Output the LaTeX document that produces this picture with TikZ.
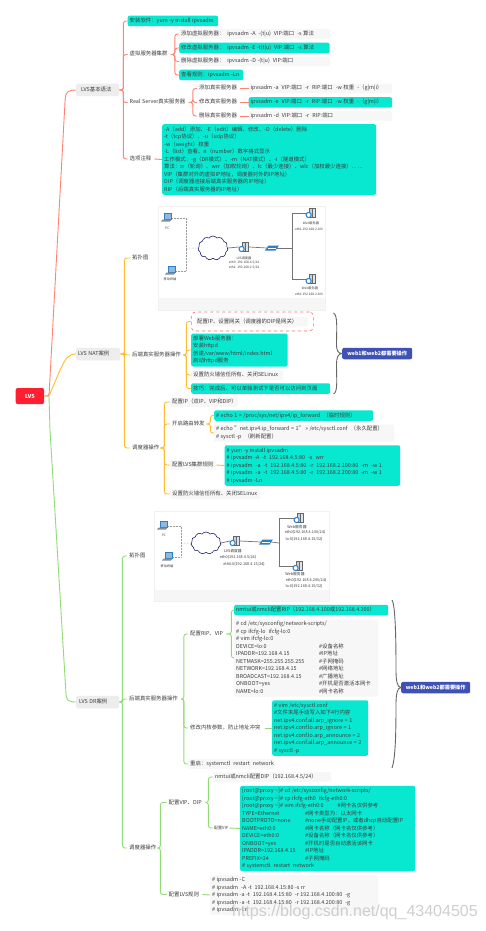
\documentclass[tikz,border=0pt]{standalone}
\usepackage{fontspec}
\setmainfont{Noto Sans CJK SC}
\newfontfamily\wmfont{Liberation Sans}
\usetikzlibrary{shapes.symbols,decorations.pathreplacing,calc}
\definecolor{tealbox}{HTML}{08E8D0}
\definecolor{graybox}{HTML}{F7F7F7}
\definecolor{ink}{HTML}{3C3C3C}
\definecolor{redline}{HTML}{FF8472}
\definecolor{orgline}{HTML}{FFBC33}
\definecolor{grnline}{HTML}{93DB76}
\definecolor{frameedge}{HTML}{F1F1F1}
\definecolor{stripfill}{HTML}{F6F6F6}
\definecolor{netblue}{HTML}{2E7FC4}
\definecolor{srvgray}{HTML}{C8D0DC}
\definecolor{rootred}{HTML}{FF1F30}
\definecolor{noteblue}{HTML}{3F51B5}
\tikzset{
  mmbase/.style={anchor=west,inner xsep=2pt,inner ysep=1pt,text=ink,
    font=\fontsize{5.4}{7.5}\selectfont},
  plainbox/.style={mmbase,fill=graybox,rounded corners=1pt},
  whitebox/.style={mmbase,fill=white,rounded corners=1pt},
  tealnode/.style={mmbase,fill=tealbox,inner ysep=1.5pt,rounded corners=2pt},
  topicbox/.style={mmbase,fill=black!7,inner ysep=2.5pt,rounded corners=1.5pt},
  rootbox/.style={anchor=west,fill=rootred,text=white,rounded corners=2pt,align=center,
    inner sep=0pt,font=\fontsize{5.4}{7}\selectfont\bfseries},
  notebox/.style={anchor=west,fill=noteblue,text=white,rounded corners=2pt,align=center,
    inner sep=0pt,font=\fontsize{5.2}{7}\selectfont\bfseries},
  redlink/.style={draw=redline,line width=0.9pt,rounded corners=2.5pt},
  orglink/.style={draw=orgline,line width=0.9pt,rounded corners=2.5pt},
  grnlink/.style={draw=grnline,line width=0.9pt,rounded corners=2.5pt},
  dashring/.style={anchor=west,draw=red!45!pink,dashed,line width=0.6pt,rounded corners=4pt,fill=white,inner sep=0pt},
  imgframe/.style={draw=frameedge,fill=white,line width=0.5pt,inner sep=0pt,anchor=north west},
  iconspot/.style={inner sep=0pt,minimum width=10pt,minimum height=10pt},
  netlabel/.style={inner sep=0pt,text=ink,font=\fontsize{3.2}{4}\selectfont},
  netlabelb/.style={inner sep=0pt,text=ink,font=\fontsize{3.8}{4.5}\selectfont},
  wireline/.style={draw=black!55,line width=0.7pt},
  dotline/.style={draw=black!40,densely dotted,line width=0.5pt},
  cloudnode/.style={cloud,cloud puffs=11,cloud puff arc=110,aspect=1.35,draw=black!65!blue,fill=white,
    line width=0.5pt,inner sep=0pt},
  bracket/.style={draw=black!60,line width=0.9pt},
}
% node between x1 and x2, centred on y; lines never rewrap
\newcommand\mmnode[6][plainbox]{%
  \pgfmathsetmacro\mmw{#4-#3-4}%
  \node[#1] (#2) at (#3,#5) {\hbox to \mmw pt{\vbox{\hsize=420pt \raggedright\parskip=0pt \spaceskip=1.5pt\relax \strut #6\strut}\hss}};}
\newcommand\mmlink[4]{\foreach \mmc in {#4}{\draw[#1] (#2.east) -- ++(#3,0) |- (\mmc.west);}}
\newcommand\tabc[2]{\makebox[83pt][l]{#1}#2}
\newcommand\tabd[2]{\makebox[63pt][l]{#1}#2}
\newcommand\serverpic[1]{%
  \fill[black!60] ($(#1)+(-2.5,-5.5)$) rectangle ($(#1)+(5,5)$);
  \fill[srvgray] ($(#1)+(-1.5,-4.5)$) rectangle ($(#1)+(1.2,4)$);
  \fill[srvgray!60] ($(#1)+(2.2,-4.5)$) rectangle ($(#1)+(4,4)$);
  \filldraw[draw=netblue,fill=white,line width=1pt] ($(#1)+(-2.4,2)$) circle (2.6pt);}
\newcommand\laptoppic[1]{%
  \fill[netblue] ($(#1)+(-3.5,-5)$) rectangle ($(#1)+(4.5,1.5)$);
  \fill[netblue!55] ($(#1)+(-2.5,-4)$) rectangle ($(#1)+(3.5,0.5)$);
  \fill[black!45] ($(#1)+(-4.5,1.5)$) -- ($(#1)+(4.5,1.5)$) -- ($(#1)+(3,3.5)$) -- ($(#1)+(-6,3.5)$) -- cycle;}
\newcommand\switchpic[1]{%
  \fill[netblue] ($(#1)+(-3.5,-2.5)$) -- ($(#1)+(7,-2.5)$) -- ($(#1)+(3.5,2.5)$) -- ($(#1)+(-7,2.5)$) -- cycle;
  \draw[white,line width=0.25pt] ($(#1)+(-4,0)$) -- ($(#1)+(4,0)$);}
\begin{document}
\begin{tikzpicture}[x=1pt,y=-1pt]
\useasboundingbox (0,0) rectangle (486,931);
\fill[white] (0,0) rectangle (486,931);

% ---------- root and first level
\node[rootbox,minimum width=28.5pt,minimum height=16pt] (root) at (15.5,396) {LVS};
\mmnode[topicbox]{basic}{76}{119}{90}{\hspace{3pt}LVS基本语法}
\mmnode[topicbox]{nat}{76}{120}{354}{LVS NAT案例}
\mmnode[topicbox]{dr}{76}{119}{702}{\hspace{1pt}LVS DR案例}

\draw[redlink] (root.east) -- (49,396) -- (65,102) .. controls (65.6,93) and (67,90) .. (basic.west);
\draw[orgline,line width=0.9pt] (root.east) -- (49,396) -- (60,370) .. controls (66,358) and (68,354) .. (nat.west);
\draw[grnline,line width=0.9pt] (root.east) -- (49,396) -- (50,430) -- (66,694) .. controls (66.5,700) and (68,702) .. (dr.west);

% ---------- LVS basic
\mmnode[tealnode]{inst}{127.5}{218}{21}{安装软件：yum -y install ipvsadm}
\mmnode[whitebox]{vs}{127.5}{170.5}{54.5}{虚拟服务器集群}
\mmnode[whitebox]{rs}{127.5}{188.5}{102.5}{Real Server真实服务器}
\mmnode[whitebox]{opt}{127.5}{154}{159}{选项注释}
\mmlink{redlink}{basic}{4}{inst,vs,rs,opt}

\mmnode[plainbox]{vsa}{179}{330}{34}{添加虚拟服务器：~~ipvsadm -A ~-(t|u) ~VIP:端口 ~-s 算法}
\mmnode[tealnode]{vse}{179}{329.5}{48}{修改虚拟服务器：~~ipvsadm -E -t(t|u) ~VIP:端口 ~-s 算法}
\mmnode[plainbox]{vsd}{179}{330}{61.5}{删除虚拟服务器：~~ipvsadm -D -(t|u) ~VIP:端口}
\mmnode[tealnode]{vsl}{179}{243}{75}{查看规则：ipvsadm -Ln}
\mmlink{redlink}{vs}{4}{vsa,vse,vsd,vsl}

\mmnode[whitebox]{rsa}{197}{240}{88.5}{添加真实服务器}
\mmnode[whitebox]{rse}{197}{240}{102.5}{修改真实服务器}
\mmnode[whitebox]{rsd}{197}{240}{116}{删除真实服务器}
\mmlink{redlink}{rs}{4}{rsa,rse,rsd}
\mmnode[plainbox]{rsac}{248.5}{392}{88.5}{ipvsadm -a ~VIP:端口 ~-r ~RIP:端口 ~-w 权重 ~-（g|m|i）}
\mmnode[tealnode]{rsec}{248.5}{392}{102.5}{ipvsadm -e ~VIP:端口 ~-r ~RIP:端口 ~-w 权重 ~-（g|m|i）}
\mmnode[plainbox]{rsdc}{248.5}{392}{116}{ipvsadm -d ~VIP:端口 ~-r ~RIP:端口}
\draw[redlink] (rsa.east) -- (rsac.west);
\draw[redlink] (rse.east) -- (rsec.west);
\draw[redlink] (rsd.east) -- (rsdc.west);

\mmnode[tealnode]{optc}{162}{376}{159.5}{-A（add）添加、-E（edit）编辑、修改、-D（delete）删除\\
-t（tcp协议）、-u（udp协议）\\
-w（weight）权重\\
-L（list）查看、n（number）数字格式显示\\
工作模式：-g（DR模式）、-m（NAT模式）、-i（隧道模式）\\
算法：rr（轮询）、wrr（加权轮询）、lc（最少连接）、wlc（加权最少连接）... ...\\
VIP（集群对外的虚拟IP地址，调度器对外的IP地址）\\
DIP（调度器连接后端真实服务器的IP地址）\\
RIP（后端真实服务器的IP地址）}
\draw[redlink] (opt.east) -- (optc.west);

% ---------- NAT case
\mmnode[whitebox]{natt}{130}{149}{258}{拓扑图}
\mmnode[whitebox]{natb}{130}{183}{355}{后端真实服务器操作}
\mmnode[whitebox]{nats}{130}{160}{448}{调度器操作}
\mmlink{orglink}{nat}{4}{natt,natb,nats}

\node[imgframe,minimum width=167pt,minimum height=104pt] (natimg) at (158,206) {};
\fill[stripfill] (158.5,298) rectangle (324.5,309.5);
\node[iconspot] (npc) at (167,218) {};
\node[iconspot] (nmob) at (171,271) {};
\node[cloudnode,minimum width=30pt,minimum height=24pt] (ncl) at (213,248) {};
\node[iconspot] (nlvs) at (244,247) {};
\node[iconspot] (nsw) at (272,248) {};
\node[iconspot] (nw1) at (311,213) {};
\node[iconspot] (nw2) at (311,279) {};
\coordinate (nbus) at (292,248);
\coordinate (ndot) at (186,248);
\draw[dotline] (npc.east) -| (ndot);
\draw[dotline] (nmob.east) -| (ndot);
\draw[dotline] (ndot) -- (ncl.west);
\draw[wireline] (ncl.east) -- (nlvs.west);
\draw[wireline] (nlvs.east) -- (nsw.west);
\draw[wireline] (nsw.east) -- (nbus);
\draw[wireline] (nbus) |- (nw1.west);
\draw[wireline] (nbus) |- (nw2.west);
\laptoppic{npc}\laptoppic{nmob}\serverpic{nlvs}\switchpic{nsw}\serverpic{nw1}\serverpic{nw2}
\node[netlabel] (nl1) at (167.5,228) {PC};
\node[netlabel] (nl2) at (170,279) {移动终端};
\node[netlabel] (nl3) at (244,258) {LVS调度器};
\node[netlabel] (nl4) at (244,263) {eth0: 192.168.4.5/24};
\node[netlabel] (nl5) at (244,268) {eth1: 192.168.2.5/24};
\node[netlabel] (nl6) at (311,223) {Web服务器};
\node[netlabel] (nl7) at (309,229) {eth1:192.168.2.100};
\node[netlabel] (nl8) at (310,288.5) {Web服务器};
\node[netlabel] (nl9) at (309,294.5) {eth1:192.168.2.200};

\node[dashring,minimum width=122pt,minimum height=19pt] (ring) at (191,321.5) {};
\mmnode[plainbox]{nb1}{195}{308}{321.5}{配置IP、设置网关（调度器的DIP是网关）}
\mmnode[tealnode]{nb2}{191}{287.5}{350}{部署Web服务器：\\安装httpd\\创建/var/www/html/index.html\\启动httpd服务}
\mmnode[plainbox]{nb3}{191}{283}{375}{设置防火墙信任所有、关闭SELinux}
\mmnode[tealnode]{nb4}{191}{330}{388.5}{技巧：完成后、可以单独测试下是否可以访问到页面}
\draw[orglink] (natb.east) -- ++(3,0) |- (ring.west);
\mmlink{orglink}{natb}{3}{nb2,nb3,nb4}
\node[notebox,minimum width=70pt,minimum height=11.5pt] (nnote) at (342,353.5) {web1和web2都需要操作};
\coordinate (nbt) at (333.5,313);
\coordinate (nbb) at (333.5,394);
\draw[bracket] (nbt) .. controls (338,315) and (336.5,330) .. (336.5,345) .. controls (336.5,350) and (338,353.5) .. (nnote.west)
  .. controls (338,353.5) and (336.5,358) .. (336.5,364) .. controls (336.5,380) and (338,392) .. (nbb);

\mmnode[plainbox]{ns1}{170}{237.5}{402}{配置IP（双IP、VIP和DIP）}
\mmnode[whitebox]{ns2}{170}{206}{424}{开启路由转发}
\mmnode[plainbox]{ns3}{170}{216}{465}{配置LVS集群规则}
\mmnode[plainbox]{ns4}{170}{260}{494}{设置防火墙信任所有、关闭SELinux}
\mmlink{orglink}{nats}{4}{ns1,ns2,ns3,ns4}
\mmnode[tealnode]{ns2a}{214}{373}{415.5}{\# echo 1 > /proc/sys/net/ipv4/ip\_forward ~（临时规则）}
\mmnode[plainbox]{ns2b}{214}{394}{433}{\# echo "net.ipv4.ip\_forward = 1" >> /etc/sysctl.conf ~（永久配置）\\\# sysctl -p ~（刷新配置）}
\mmlink{orglink}{ns2}{4}{ns2a,ns2b}
\mmnode[tealnode]{ns3a}{224.5}{400}{465.5}{\# yum -y install ipvsadm\\
\# ipvsadm -A ~-t ~192.168.4.5:80 ~-s ~wrr\\
\# ipvsadm ~-a ~-t ~192.168.4.5:80 ~-r ~192.168.2.100:80 ~-m ~-w 1\\
\# ipvsadm ~-a ~-t ~192.168.4.5:80 ~-r ~192.168.2.200:80 ~-m ~-w 1\\
\# ipvsadm -Ln}
\draw[orglink] (ns3.east) -- (ns3a.west);

% ---------- DR case
\mmnode[whitebox]{drt}{127}{146}{556}{拓扑图}
\mmnode[whitebox]{drb}{127}{181}{699}{后端真实服务器操作}
\mmnode[whitebox]{drs}{127}{157}{848}{调度器操作}
\mmlink{grnlink}{dr}{3}{drt,drb,drs}

\node[imgframe,minimum width=175pt,minimum height=90pt] (drimg) at (154,511) {};
\fill[stripfill] (154.5,590) rectangle (328.5,600.5);
\node[iconspot] (dpc) at (163,526) {};
\node[iconspot] (dmob) at (168,557) {};
\node[cloudnode,minimum width=30pt,minimum height=22pt] (dcl) at (206,543) {};
\node[iconspot] (dlvs) at (235,541) {};
\node[iconspot] (dsw) at (266,542) {};
\node[iconspot] (dw1) at (299,518) {};
\node[iconspot] (dw2) at (298,566) {};
\coordinate (dbus) at (279,543);
\coordinate (ddot) at (181,543);
\draw[dotline] (dpc.east) -| (ddot);
\draw[dotline] (dmob.east) -| (ddot);
\draw[dotline] (ddot) -- (dcl.west);
\draw[wireline] (dcl.east) -- (dlvs.west);
\draw[wireline] (dlvs.east) -- (dsw.west);
\draw[wireline] (dsw.east) -- (dbus);
\draw[wireline] (dbus) |- (dw1.west);
\draw[wireline] (dbus) |- (dw2.west);
\laptoppic{dpc}\laptoppic{dmob}\serverpic{dlvs}\switchpic{dsw}\serverpic{dw1}\serverpic{dw2}
\node[netlabel] (dl1) at (164,535) {PC};
\node[netlabel] (dl2) at (167,566) {移动终端};
\node[netlabelb] (dl3) at (233,551.5) {LVS调度器};
\node[netlabelb] (dl4) at (238,557) {eth0(192.168.4.5/24)};
\node[netlabelb] (dl5) at (244,564) {eth0:0(192.168.4.15/24)};
\node[netlabelb] (dl6) at (297,527) {Web服务器};
\node[netlabelb] (dl7) at (305,532) {eth0(192.168.4.100/24)};
\node[netlabelb] (dl8) at (304,539) {lo:0(192.168.4.15/32)};
\node[netlabelb] (dl9) at (295,574) {Web服务器};
\node[netlabelb] (dl10) at (306,580) {eth0(192.168.4.200/24)};
\node[netlabelb] (dl11) at (304,586.5) {lo:0(192.168.4.15/32)};

\mmnode[whitebox]{db1}{188}{226}{634}{配置RIP、VIP}
\mmnode[whitebox]{db2}{188}{264.5}{728}{修改内核参数，防止地址冲突}
\mmnode[plainbox]{db3}{188}{275}{764}{重启：systemctl ~restart ~network}
\mmlink{grnlink}{drb}{2.5}{db1,db2,db3}
\mmnode[tealnode]{db1a}{234}{388}{610}{nmtui或nmcli配置RIP（192.168.4.100或192.168.4.200）}
\mmnode[plainbox]{db1b}{234}{378}{658}{\# cd /etc/sysconfig/network-scripts/\\
\# cp ifcfg-lo ~ifcfg-lo:0\\
\# vim ifcfg-lo:0\\
\tabc{DEVICE=lo:0}{\#设备名称}\\
\tabc{IPADDR=192.168.4.15}{\#IP地址}\\
\tabc{NETMASK=255.255.255.255}{\#子网掩码}\\
\tabc{NETWORK=192.168.4.15}{\#网络地址}\\
\tabc{BROADCAST=192.168.4.15}{\#广播地址}\\
\tabc{ONBOOT=yes}{\#开机是否激活本网卡}\\
\tabc{NAME=lo:0}{\#网卡名称}}
\mmlink{grnlink}{db1}{5}{db1a,db1b}
\mmnode[tealnode]{db2a}{272}{368}{728}{\# vim /etc/sysctl.conf\\
\#文件末尾手动写入如下4行内容\\
net.ipv4.conf.all.arp\_ignore = 1\\
net.ipv4.conf.lo.arp\_ignore = 1\\
net.ipv4.conf.lo.arp\_announce = 2\\
net.ipv4.conf.all.arp\_announce = 2\\
\# sysctl -p}
\draw[grnlink] (db2.east) -- (db2a.west);
\node[notebox,minimum width=69pt,minimum height=11.5pt] (dnote) at (401,687.5) {web1和web2都需要操作};
\coordinate (dbt) at (392,600);
\coordinate (dbb) at (392,768);
\draw[bracket] (dbt) .. controls (395,605) and (396,630) .. (396,670) .. controls (396,680) and (397,687.5) .. (dnote.west)
  .. controls (397,687.5) and (396,695) .. (396,705) .. controls (396,740) and (395,760) .. (dbb);

\mmnode[whitebox]{ds1}{166.5}{205}{802.5}{配置VIP、DIP}
\mmnode[whitebox]{ds2}{166.5}{202}{894.5}{配置LVS规则}
\mmlink{grnlink}{drs}{3}{ds1,ds2}
\mmnode[plainbox]{ds1a}{213}{331}{777}{nmtui或nmcli配置DIP（192.168.4.5/24）}
\node[whitebox,inner xsep=1pt,font=\fontsize{4}{5}\selectfont] (ds1b) at (213,828) {配置VIP};
\mmlink{grnlink}{ds1}{3}{ds1a,ds1b}
\mmnode[tealnode]{ds1c}{240}{415}{828.5}{{[}root@proxy \textasciitilde]\# cd /etc/sysconfig/network-scripts/\\
{[}root@proxy \textasciitilde]\# cp ifcfg-eth0 ~ifcfg-eth0:0\\
{[}root@proxy \textasciitilde]\# vim ifcfg-eth0:0\hspace{14pt}\#网卡名仅供参考\\
\tabd{TYPE=Ethernet}{\#网卡类型为：以太网卡}\\
\tabd{BOOTPROTO=none}{\#none手动配置IP，或者dhcp自动配置IP}\\
\tabd{NAME=eth0:0}{\#网卡名称（网卡名仅供参考）}\\
\tabd{DEVICE=eth0:0}{\#设备名称（网卡名仅供参考）}\\
\tabd{ONBOOT=yes}{\#开机时是否自动激活该网卡}\\
\tabd{IPADDR=192.168.4.15}{\#IP地址}\\
\tabd{PREFIX=24}{\#子网掩码}\\
\# systemctl ~restart ~network}
\draw[grnlink] (ds1b.east) -- (ds1c.west);
\mmnode[plainbox]{ds2a}{210}{378}{895}{\# ipvsadm -C\\
\# ipvsadm ~-A -t ~192.168.4.15:80 -s rr\\
\# ipvsadm -a -t ~192.168.4.15:80 ~-r 192.168.4.100:80 ~-g\\
\# ipvsadm -a -t ~192.168.4.15:80 ~-r 192.168.4.200:80 ~-g\\
\# ipvsadm -Ln}
\draw[grnlink] (ds2.east) -- (ds2a.west);

% ---------- watermark
\node[anchor=west,inner sep=0pt,text=black!22,opacity=0.85,font=\wmfont\fontsize{16}{18}\selectfont] (wm) at (232,912) {https://blog.csdn.net/qq\_43404505};
\end{tikzpicture}
\end{document}
